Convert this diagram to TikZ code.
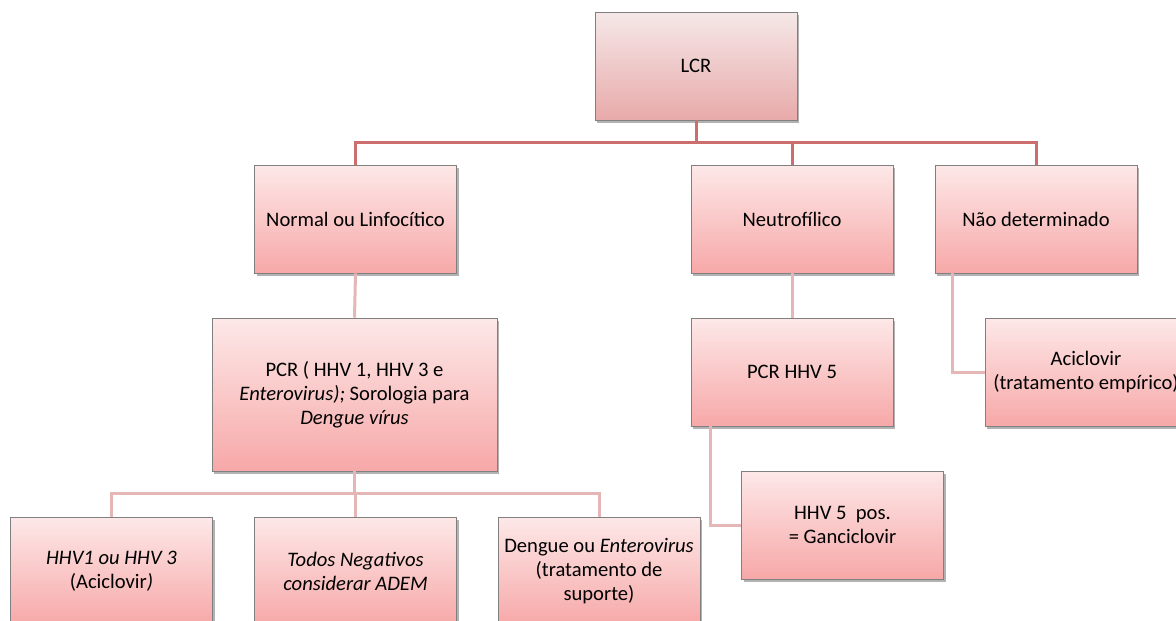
\documentclass[tikz,border=0pt]{standalone}
\usepackage{fontspec}
\setmainfont{Carlito}
\usetikzlibrary{shadows,calc}

\definecolor{boxtop}{RGB}{253,232,232}
\definecolor{boxbot}{RGB}{247,168,168}
\definecolor{roottop}{RGB}{245,232,232}
\definecolor{rootbot}{RGB}{232,170,170}
\definecolor{boxline}{RGB}{128,128,128}
\definecolor{linkdark}{RGB}{205,110,110}
\definecolor{linklight}{RGB}{229,182,182}

\tikzset{
  card/.style={draw=boxline, line width=0.8pt, rectangle,
    top color=boxtop, bottom color=boxbot,
    minimum width=202pt, minimum height=108pt, inner sep=2pt,
    align=center, text=black,
    font=\fontsize{20.6}{24}\selectfont,
    drop shadow={shadow xshift=2pt, shadow yshift=-2.5pt, fill=black, opacity=0.3}},
  rootcard/.style={card, top color=roottop, bottom color=rootbot},
  widecard/.style={card, minimum width=285pt, minimum height=153pt},
  linkhi/.style={draw=linkdark, line width=3pt},
  linklo/.style={draw=linklight, line width=3pt},
}

\begin{document}
\begin{tikzpicture}[x=1pt,y=-1pt]
\useasboundingbox (0,0) rectangle (1176,621);
\clip (0,0) rectangle (1176,621);
\fill[white] (0,0) rectangle (1176,621);

% bus levels
\coordinate (busA) at (0,142);
\coordinate (busB) at (0,493);

% boxes
\node[rootcard] (lcr) at (696,66) {LCR};
\node[card] (normal) at (355.5,219) {Normal ou Linfocítico};
\node[card] (neutro) at (792,219) {Neutrofílico};
\node[card] (nao) at (1036,219) {Não determinado};
\node[widecard] (pcr) at (354.5,394.5) {PCR ( HHV 1, HHV 3 e\\\textit{Enterovirus);} Sorologia para\\\textit{Dengue vírus}};
\node[card] (pcr5) at (792,372) {PCR HHV 5};
\node[card] (acic) at (1086,372) {Aciclovir\\(tratamento empírico)};
\node[card] (hhv5) at (842.5,525) {HHV 5\ \ pos.\\= Ganciclovir};
\node[card] (hhv1) at (111.5,571) {\textit{HHV1 ou HHV 3}\\(Aciclovir\textit{)}};
\node[card] (todos) at (355.5,571) {\textit{Todos Negativos}\\\textit{considerar ADEM}};
\node[card] (dengue) at (599,571) {Dengue ou \textit{Enterovirus}\\(tratamento de\\suporte)};

% connectors
\draw[linkhi] (lcr.south) -- (lcr.south |- busA);
\draw[linkhi] (normal.north) -- (normal.north |- busA) -| (nao.north);
\draw[linkhi] (neutro.north) -- (neutro.north |- busA);
\draw[linklo] (normal.south) -- (pcr.north);
\draw[linklo] (neutro.south) -- (pcr5.north);
\draw[linklo] (pcr.south) -- (pcr.south |- busB);
\draw[linklo] (hhv1.north) -- (hhv1.north |- busB) -| (dengue.north);
\draw[linklo] (todos.north) -- (todos.north |- busB);
\draw[linklo] ($(pcr5.south west)+(20,0)$) |- (hhv5.west);
\draw[linklo] ($(nao.south west)+(18,0)$) |- (acic.west);
\end{tikzpicture}
\end{document}
